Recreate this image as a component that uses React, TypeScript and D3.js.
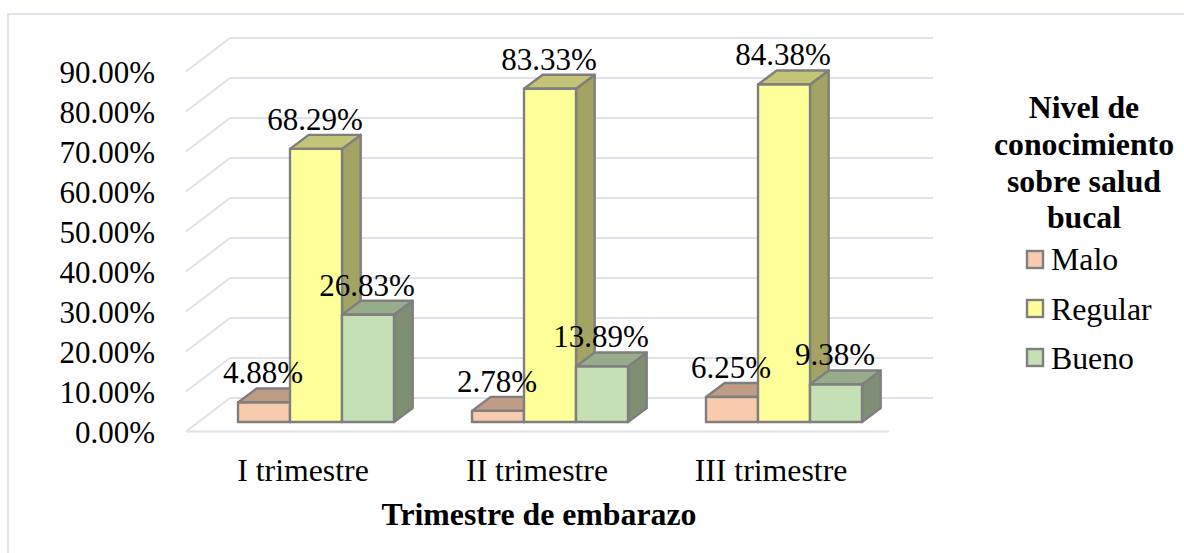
import React from "react";
import * as d3 from "d3";

const categories = ["I trimestre", "II trimestre", "III trimestre"];
const seriesNames = ["Malo", "Regular", "Bueno"];
const malo = [4.88, 2.78, 6.25];
const regular = [68.29, 83.33, 84.38];
const bueno = [26.83, 13.89, 9.38];
const seriesValues = [malo, regular, bueno];
const ticks = [0, 10, 20, 30, 40, 50, 60, 70, 80, 90];
const legendTitle = ["Nivel de", "conocimiento", "sobre salud", "bucal"];
const axisTitle = "Trimestre de embarazo";

const fills = ["#F8CBAD", "#FFFF99", "#C5E0B4"];
const tops = ["#BF9C85", "#C4C476", "#97AC8A"];
const sides = ["#A08470", "#A3A363", "#7E8F73"];
const FONT = "'Liberation Serif', 'Times New Roman', serif";
const FS = 31;
const FT = 31.8;

export default function App() {
  const y = d3.scaleLinear().domain([0, 90]).range([422, 62]);
  const yGrid = d3.scaleLinear().domain([0, 90]).range([398, 38]);
  const x0 = d3.scaleBand().domain(categories).range([186, 888]).paddingInner(0).paddingOuter(0);
  const barW = 52;
  const gx = (c: string) => x0(c)! + x0.bandwidth() / 2 - barW * 1.5 + 13;
  const bdx = 18.7, bdy = -14;
  const gdx = 44, gdy = -33.5;

  return (
    <svg width={1184} height={553} style={{ position: "absolute", left: 0, top: 0, background: "#fff" }} fontFamily={FONT} fill="#000">
      <path d="M8,553 V14 H1184" fill="none" stroke="#E1E4EA" strokeWidth={2} />
      {ticks.map((t) => (
        <path key={t} d={`M186,${yGrid(t) - gdy} L${186 + gdx},${yGrid(t)} H933`} fill="none" stroke="#DFE2E9" strokeWidth={2} />
      ))}
      <path d={`M186,${yGrid(0) - gdy} H889`} fill="none" stroke="#DFE2E9" strokeWidth={2} />
      {ticks.map((t) => (
        <text key={t} x={155} y={yGrid(t) - gdy + 11} textAnchor="end" fontSize={FS}>
          {t.toFixed(2)}%
        </text>
      ))}
      {categories.map((c, ci) => (
        <g key={c}>
          {seriesValues.map((vals, si) => {
            const x = gx(c) + si * barW;
            const top = y(vals[ci]);
            const base = y(0);
            return (
              <g key={si} stroke="#7F7F7F" strokeWidth={2.4} strokeLinejoin="round">
                <path d={`M${x + barW},${top} l${bdx},${bdy} V${base + bdy} L${x + barW},${base} Z`} fill={sides[si]} />
                <path d={`M${x},${top} l${bdx},${bdy} h${barW} l${-bdx},${-bdy} Z`} fill={tops[si]} />
                <rect x={x} y={top} width={barW} height={base - top} fill={fills[si]} />
              </g>
            );
          })}
        </g>
      ))}
      {categories.map((c, ci) => (
        <g key={c}>
          {seriesValues.map((vals, si) => (
            <text key={si} x={gx(c) + si * barW + barW / 2 - 1} y={y(vals[ci]) - 19} textAnchor="middle" fontSize={FS}>
              {vals[ci].toFixed(2)}%
            </text>
          ))}
          <text x={x0(c)! + x0.bandwidth() / 2} y={481} textAnchor="middle" fontSize={FT}>{c}</text>
        </g>
      ))}
      <text x={539} y={525} textAnchor="middle" fontSize={FT} fontWeight="bold">{axisTitle}</text>
      {legendTitle.map((l, i) => (
        <text key={l} x={1084} y={118 + i * 36.8} textAnchor="middle" fontSize={FT} fontWeight="bold">{l}</text>
      ))}
      {seriesNames.map((s, i) => (
        <g key={s}>
          <rect x={1027} y={251 + i * 49} width={16} height={17} fill={fills[i]} stroke="#7F7F7F" strokeWidth={2.4} />
          <text x={1051} y={270 + i * 49.5} fontSize={FT}>{s}</text>
        </g>
      ))}
    </svg>
  );
}
